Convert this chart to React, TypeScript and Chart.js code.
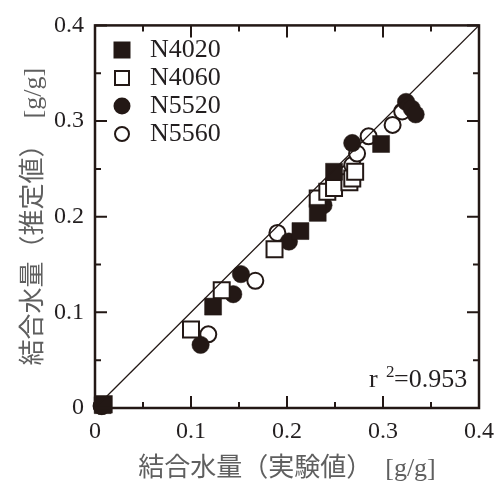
import React, { useEffect, useRef } from 'react';
import { Chart, registerables } from 'chart.js';

Chart.register(...registerables);

// ---- data ----
const seriesNames = ['N4020', 'N4060', 'N5520', 'N5560'];

const n4020X = [0.008, 0.123, 0.214, 0.232, 0.249, 0.298];
const n4020Y = [0.003, 0.106, 0.185, 0.204, 0.247, 0.276];

const n4060X = [0.009, 0.100, 0.132, 0.187, 0.232, 0.242, 0.249, 0.265, 0.268, 0.271];
const n4060Y = [0.004, 0.082, 0.123, 0.166, 0.219, 0.226, 0.230, 0.236, 0.240, 0.247];

const n5520X = [0.007, 0.110, 0.144, 0.152, 0.202, 0.238, 0.268, 0.324, 0.330, 0.334];
const n5520Y = [0.002, 0.066, 0.119, 0.140, 0.174, 0.212, 0.277, 0.320, 0.313, 0.307];

const n5560X = [0.007, 0.118, 0.167, 0.190, 0.262, 0.268, 0.273, 0.285, 0.310, 0.320];
const n5560Y = [0.002, 0.077, 0.133, 0.183, 0.245, 0.254, 0.266, 0.284, 0.296, 0.310];

const refLineX = [0, 0.4];
const refLineY = [0, 0.4];

const axisMin = 0;
const axisMax = 0.4;
const majorStep = 0.1;
const minorStep = 0.05;

const xTitle = '結合水量（実験値）  [g/g]';
const yTitle = '結合水量（推定値）  [g/g]';
const rSquaredValue = '0.953';

// ---- styles ----
const INK = '#231815';
const SERIF = "'Liberation Serif', 'Times New Roman', serif";
const TITLE_FONT = "'Liberation Serif', 'Noto Sans CJK JP', serif";

type MarkerKind = { shape: 'rect' | 'circle'; filled: boolean };
const markerKinds: MarkerKind[] = [
  { shape: 'rect', filled: true },
  { shape: 'rect', filled: false },
  { shape: 'circle', filled: true },
  { shape: 'circle', filled: false },
];

function makeLegendIcon(kind: MarkerKind): HTMLCanvasElement {
  const c = document.createElement('canvas');
  c.width = 30;
  c.height = 20;
  const ctx = c.getContext('2d')!;
  const cx = 20;
  const cy = 10;
  ctx.lineWidth = 2;
  ctx.strokeStyle = INK;
  ctx.fillStyle = kind.filled ? INK : '#ffffff';
  ctx.beginPath();
  if (kind.shape === 'rect') {
    const s = kind.filled ? 17 : 14;
    ctx.rect(cx - s / 2, cy - s / 2, s, s);
  } else {
    const r = kind.filled ? 8.5 : 7;
    ctx.arc(cx, cy, r, 0, Math.PI * 2);
  }
  ctx.fill();
  if (!kind.filled) ctx.stroke();
  return c;
}

const toPoints = (xs: number[], ys: number[]) => xs.map((x, i) => ({ x, y: ys[i] }));

const frameAndTicks = {
  id: 'frameAndTicks',
  afterDatasetsDraw(chart: any) {
    const { ctx, chartArea, scales } = chart;
    const xs = scales.x;
    const ys = scales.y;
    const { left, right, top, bottom } = chartArea;
    ctx.save();
    ctx.strokeStyle = INK;
    ctx.lineWidth = 2;
    const values: { v: number; major: boolean }[] = [];
    xs.ticks.forEach((t: any) => {
      values.push({ v: t.value, major: true });
      const m = t.value + minorStep;
      if (m < axisMax - 1e-9) values.push({ v: m, major: false });
    });
    ctx.beginPath();
    values.forEach(({ v, major }) => {
      const len = major ? 12 : 6;
      const px = xs.getPixelForValue(v);
      ctx.moveTo(px, bottom);
      ctx.lineTo(px, bottom - len);
      ctx.moveTo(px, top);
      ctx.lineTo(px, top + len);
      const py = ys.getPixelForValue(v);
      ctx.moveTo(left, py);
      ctx.lineTo(left + len, py);
      ctx.moveTo(right, py);
      ctx.lineTo(right - len, py);
    });
    ctx.stroke();
    ctx.lineWidth = 2.5;
    ctx.strokeRect(left, top, right - left, bottom - top);

    // r^2 annotation
    ctx.fillStyle = '#231f20';
    ctx.textBaseline = 'alphabetic';
    ctx.textAlign = 'left';
    const baseX = xs.getPixelForValue(0.2855);
    const baseY = ys.getPixelForValue(0.0215);
    ctx.font = `26px ${SERIF}`;
    ctx.fillText('r', baseX, baseY);
    ctx.font = `17px ${SERIF}`;
    ctx.fillText('2', baseX + 17, baseY - 10);
    ctx.font = `26px ${SERIF}`;
    ctx.fillText('=' + rSquaredValue, baseX + 25, baseY);
    ctx.restore();
  },
};

export default function App() {
  const ref = useRef<HTMLCanvasElement | null>(null);

  useEffect(() => {
    if (!ref.current) return;
    const icons = markerKinds.map(makeLegendIcon);
    const seriesData = [
      toPoints(n4020X, n4020Y),
      toPoints(n4060X, n4060Y),
      toPoints(n5520X, n5520Y),
      toPoints(n5560X, n5560Y),
    ];
    const datasets: any[] = seriesNames.map((name, i) => {
      const k = markerKinds[i];
      return {
        label: name,
        data: seriesData[i],
        pointStyle: k.shape,
        pointRadius: k.shape === 'rect' ? (k.filled ? 12 : 11.3) : k.filled ? 8.7 : 8,
        pointBackgroundColor: k.filled ? INK : '#ffffff',
        pointBorderColor: INK,
        pointBorderWidth: k.filled ? 0.5 : 2,
        showLine: false,
        clip: false,
        order: 1,
      };
    });
    datasets.push({
      label: 'y = x',
      data: toPoints(refLineX, refLineY),
      showLine: true,
      borderColor: INK,
      borderWidth: 1.3,
      pointRadius: 0,
      order: 0,
    });

    const chart = new Chart(ref.current, {
      type: 'scatter',
      data: { datasets },
      options: {
        animation: false,
        responsive: false,
        events: [],
        layout: { padding: { left: 0, top: 20, right: 19, bottom: 0 } },
        plugins: {
          tooltip: { enabled: false },
          legend: {
            display: true,
            position: 'chartArea',
            align: 'start',
            title: { display: true, text: '\u00a0', font: { size: 10 }, padding: { top: 23, bottom: 0 } },
            labels: {
              usePointStyle: true,
              pointStyleWidth: 40,
              padding: 2,
              color: '#231f20',
              font: { family: SERIF, size: 26 },
              generateLabels: () =>
                seriesNames.map((name, i) => ({
                  text: name,
                  pointStyle: icons[i],
                  fillStyle: INK,
                  strokeStyle: INK,
                  fontColor: '#231f20',
                  lineWidth: 0,
                  hidden: false,
                  datasetIndex: i,
                })),
            },
          },
        },
        scales: {
          x: {
            type: 'linear',
            min: axisMin,
            max: axisMax,
            grid: { display: false, drawTicks: false },
            border: { display: false },
            ticks: {
              stepSize: majorStep,
              padding: 9,
              color: '#231f20',
              font: { family: SERIF, size: 24 },
              callback: (v: any) => (Number(v) === 0 ? '0' : Number(v).toFixed(1)),
            },
            title: {
              display: true,
              text: xTitle,
              color: '#5f5f5f',
              font: { family: TITLE_FONT, size: 26 },
              padding: { top: 0, bottom: 3 },
            },
            afterFit: (s: any) => {
              s.height = 80;
            },
          },
          y: {
            type: 'linear',
            min: axisMin,
            max: axisMax,
            grid: { display: false, drawTicks: false },
            border: { display: false },
            ticks: {
              stepSize: majorStep,
              padding: 11,
              color: '#231f20',
              font: { family: SERIF, size: 24 },
              callback: (v: any) => (Number(v) === 0 ? '0' : Number(v).toFixed(1)),
            },
            title: {
              display: true,
              text: yTitle,
              color: '#5f5f5f',
              font: { family: TITLE_FONT, size: 26 },
              padding: { top: 19, bottom: 0 },
            },
            afterFit: (s: any) => {
              s.width = 95;
            },
          },
        },
      },
      plugins: [frameAndTicks],
    } as any);
    return () => chart.destroy();
  }, []);

  return (
    <div style={{ position: 'fixed', left: 0, top: 0, width: 503, height: 488, background: '#fff' }}>
      <canvas ref={ref} width={503} height={488} style={{ display: 'block' }} />
    </div>
  );
}
